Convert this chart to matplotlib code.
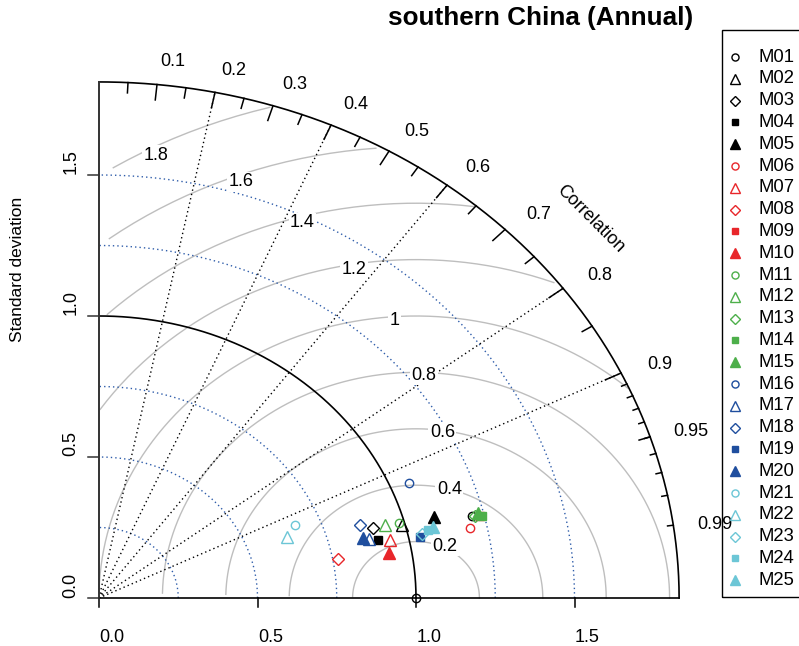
import numpy as np
import matplotlib
matplotlib.use("Agg")
import matplotlib.pyplot as plt
from matplotlib.patches import Rectangle

plt.rcParams['font.family'] = ['Liberation Sans', 'DejaVu Sans']

# ---- data -------------------------------------------------------------
models = [f"M{i:02d}" for i in range(1, 26)]
std_dev = [1.211, 0.989, 0.898, 0.905, 1.096,
           1.196, 0.941, 0.767, 1.235, 0.930,
           0.983, 0.939, 1.221, 1.242, 1.234,
           1.060, 0.878, 0.863, 1.036, 0.861,
           0.670, 0.630, 1.045, 1.067, 1.084]
correlation = [0.971, 0.965, 0.961, 0.974, 0.965,
               0.978, 0.976, 0.984, 0.972, 0.985,
               0.963, 0.961, 0.971, 0.972, 0.970,
               0.923, 0.9715, 0.954, 0.978, 0.969,
               0.922, 0.940, 0.976, 0.974, 0.973]
ref_sd = 1.0
max_sd = 1.83
sd_arcs = [0.25, 0.5, 0.75, 1.25, 1.5]
rms_levels = [0.2, 0.4, 0.6, 0.8, 1.0, 1.2, 1.4, 1.6, 1.8]
rms_labels = ["0.2", "0.4", "0.6", "0.8", "1", "1.2", "1.4", "1.6", "1.8"]
corr_lines = [0.2, 0.4, 0.6, 0.8, 0.9]
corr_labels = [0.1, 0.2, 0.3, 0.4, 0.5, 0.6, 0.7, 0.8, 0.9, 0.95, 0.99]
sd_ticks = [0.0, 0.5, 1.0, 1.5]

group_colors = ["#000000", "#E8262A", "#4DAF4A", "#1F4E9E", "#6CC6D6"]
shapes = ["o", "^", "D", "s", "^"]
shape_filled = [False, False, False, True, True]
shape_size = [6, 8, 6, 5.5, 8]

title = "southern China (Annual)"

# ---- figure / axes ----------------------------------------------------
W, H = 799, 646
fig = plt.figure(figsize=(W / 100, H / 100), dpi=100)

x0px, y0px = 99, 598      # origin position
sx, sy = 317, 282         # pixels per unit
xlim = (-0.3, 1.95)
ylim = (-0.15, 2.05)
ax = fig.add_axes([(x0px + xlim[0] * sx) / W,
                   1 - (y0px - ylim[0] * sy) / H,
                   (xlim[1] - xlim[0]) * sx / W,
                   (ylim[1] - ylim[0]) * sy / H])
ax.set_xlim(xlim)
ax.set_ylim(ylim)
ax.axis("off")

FS = 13
SHIFT = 13   # text drawn slightly downstream along its baseline


def label(x, y, s, rot=0, size=FS, box=False, **kw):
    th = np.deg2rad(rot)
    dx = SHIFT * np.cos(th) + 3 * np.sin(th)
    dy = SHIFT * np.sin(th) - 3 * np.cos(th)
    extra = {}
    if box:
        extra["bbox"] = dict(facecolor="white", edgecolor="none", pad=1.0)
    ax.annotate(s, (x, y), xytext=(dx, dy), textcoords="offset pixels",
                ha="center", va="center", fontsize=size, rotation=rot,
                zorder=5, annotation_clip=False, **extra, **kw)


dot = (0, (1, 2.2))

# standard deviation arcs
t = np.linspace(0, np.pi / 2, 300)
for r in sd_arcs:
    ax.plot(r * np.cos(t), r * np.sin(t), color="#2F5DAA", lw=1.0,
            linestyle=dot, zorder=2)

# centred RMS difference contours
theta = np.arange(0, np.pi, 0.03)
label_idx = [45, 48, 51, 54, 57, 60, 63, 66, 70]
for g, txt, li in zip(rms_levels, rms_labels, label_idx):
    xc = np.cos(theta) * g + ref_sd
    yc = np.sin(theta) * g
    keep = (xc >= 0) & (xc ** 2 + yc ** 2 <= max_sd ** 2)
    ax.plot(xc[keep], yc[keep], color="#BEBEBE", lw=1.0, zorder=1)
    a = (li - 1) * 0.03
    lx, ly = np.cos(a) * g + ref_sd, np.sin(a) * g
    if lx > 0:
        label(lx, ly, txt, box=True)

# correlation rays
for c in corr_lines:
    ax.plot([0, max_sd * c], [0, max_sd * np.sqrt(1 - c ** 2)],
            color="black", lw=1.0, linestyle=dot, zorder=2)

# outer arc and reference arc
ax.plot(max_sd * np.cos(t), max_sd * np.sin(t), color="black", lw=1.2, zorder=3)
ax.plot(ref_sd * np.cos(t), ref_sd * np.sin(t), color="black", lw=1.2, zorder=3)

# correlation ticks
big = np.arccos(np.arange(0.1, 0.91, 0.1))
med = np.arccos(np.arange(0.05, 0.96, 0.1))
sml = np.arccos(np.arange(0.91, 0.995, 0.01))
for angs, f in [(big, 0.97), (med, 0.98), (sml, 0.99)]:
    for a in angs:
        ax.plot([np.cos(a) * max_sd, np.cos(a) * f * max_sd],
                [np.sin(a) * max_sd, np.sin(a) * f * max_sd],
                color="black", lw=1.1, zorder=3)
for c in corr_labels:
    a = np.arccos(c)
    label(np.cos(a) * 1.05 * max_sd, np.sin(a) * 1.05 * max_sd, f"{c:g}")
ax.text(1.55, 1.345, "Correlation", rotation=-45, ha="center", va="center",
        fontsize=FS, rotation_mode="anchor")

# axes lines and ticks
ax.plot([0, max_sd], [0, 0], color="black", lw=1.2, zorder=3)
ax.plot([0, 0], [0, max_sd], color="#333333", lw=1.4, zorder=3)
for v in sd_ticks:
    ax.plot([v, v], [0, -9 / sy], color="black", lw=1.1, zorder=3)
    label(v, -36 / sy, f"{v:.1f}")
    ax.plot([0, -11 / sx], [v, v], color="#333333", lw=1.1, zorder=3)
    label(-31 / sx, v, f"{v:.1f}", rot=90)
fig.text(18 / W, 1 - 269 / H, "Standard deviation", rotation=90,
         ha="center", va="center", fontsize=12.5)

# reference point
ax.plot(ref_sd, 0, marker="o", ms=6, mfc="none", mec="black", mew=1.0,
        zorder=6, clip_on=False)

# models
for i, (name, s, c) in enumerate(zip(models, std_dev, correlation)):
    col = group_colors[i // 5]
    k = i % 5
    ang = np.arccos(c)
    ax.plot(s * np.cos(ang), s * np.sin(ang), marker=shapes[k],
            ms=shape_size[k], mec=col, mew=1.0,
            mfc=col if shape_filled[k] else "none",
            linestyle="none", zorder=7)

# title
fig.text(541 / W, 1 - 18 / H, title, ha="center", va="center",
         fontsize=18.8, fontweight="bold")

# legend
lax = fig.add_axes([722 / W, 1 - 597 / H, 110 / W, 567 / H])
lax.set_xlim(722, 832)
lax.set_ylim(597, 30)
lax.axis("off")
fig.add_artist(Rectangle((722 / W, 1 - 597 / H), 110 / W, 567 / H,
                         transform=fig.transFigure, fill=False,
                         edgecolor="black", lw=1.0))
for i, name in enumerate(models):
    col = group_colors[i // 5]
    k = i % 5
    yy = 57 + i * 21.8
    lax.plot(735, yy, marker=shapes[k], ms=shape_size[k] * 0.85, mec=col,
             mew=1.0, mfc=col if shape_filled[k] else "none",
             linestyle="none", clip_on=False)
    lax.text(758, yy, name, ha="left", va="center", fontsize=FS + 0.3)

fig.savefig("out.png", dpi=100)
